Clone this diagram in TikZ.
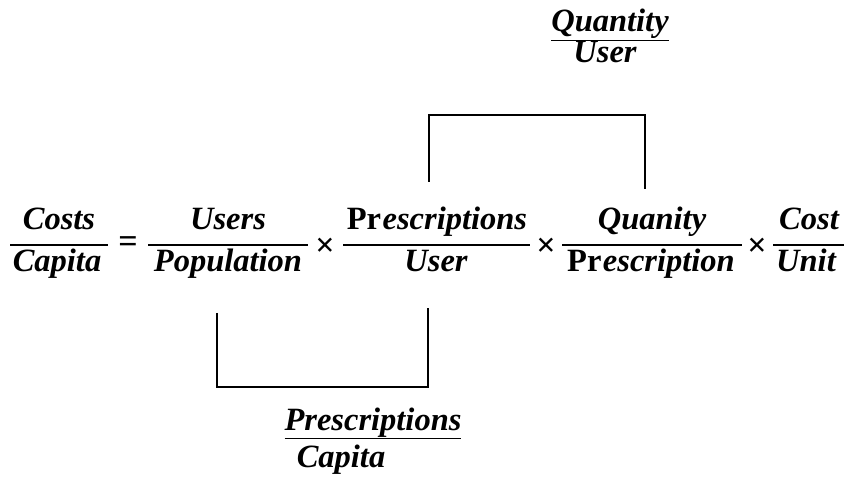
\documentclass[tikz,border=0pt]{standalone}
\usepackage{fontspec}
\setmainfont{Liberation Serif}
\newcommand{\Prx}{{\upshape Pr}\hspace{1.5pt}}
\begin{document}
\begin{tikzpicture}[x=1pt,y=1pt,
  txt/.style={anchor=base,inner sep=0pt,font=\fontsize{32.5}{38}\selectfont\bfseries\itshape},
  op/.style={inner sep=0pt,font=\fontsize{34}{40}\selectfont\bfseries},
  rule/.style={line width=2pt},
  bracket/.style={line width=2pt}]
\useasboundingbox (0,0) rectangle (846,485);
% numerators
\node[txt] (n1) at (59,255) {Costs};
\node[txt] (n2) at (228,255) {Users};
\node[txt] (n3) at (437,255) {\Prx escriptions};
\node[txt] (n4) at (652,255) {Quanity};
\node[txt] (n5) at (809,255) {Cost};
% denominators
\node[txt] (d1) at (57,213) {Capita};
\node[txt] (d2) at (228,213) {Population};
\node[txt] (d3) at (436,213) {User};
\node[txt] (d4) at (651,213) {\Prx escription};
\node[txt] (d5) at (806,213) {Unit};
% fraction rules
\coordinate (r1a) at (10,240); \coordinate (r1b) at (108,240);
\coordinate (r2a) at (148,240); \coordinate (r2b) at (308,240);
\coordinate (r3a) at (343,240); \coordinate (r3b) at (530,240);
\coordinate (r4a) at (562,240); \coordinate (r4b) at (742,240);
\coordinate (r5a) at (773,240); \coordinate (r5b) at (844,240);
\draw[rule] (r1a) -- (r1b);
\draw[rule] (r2a) -- (r2b);
\draw[rule] (r3a) -- (r3b);
\draw[rule] (r4a) -- (r4b);
\draw[rule] (r5a) -- (r5b);
% operators
\node[op] (eq) at (128,240) {=};
\node[op] (x1) at (325,238) {×};
\node[op] (x2) at (546,238) {×};
\node[op] (x3) at (757,238) {×};
% top bracket
\coordinate (ta) at (429,303); \coordinate (tb) at (645,296);
\draw[bracket] (ta) -- (429,370) -- (645,370) -- (tb);
% bottom bracket
\coordinate (ba) at (217,172); \coordinate (bb) at (428,177);
\draw[bracket] (ba) -- (217,98) -- (428,98) -- (bb);
% labels
\node[txt] (q1) at (610,453) {\underline{Quantity}};
\node[txt] (q2) at (605,422) {User};
\node[txt] (p1) at (373,55) {\underline{Prescriptions}};
\node[txt] (p2) at (341,18) {Capita};
\end{tikzpicture}
\end{document}
